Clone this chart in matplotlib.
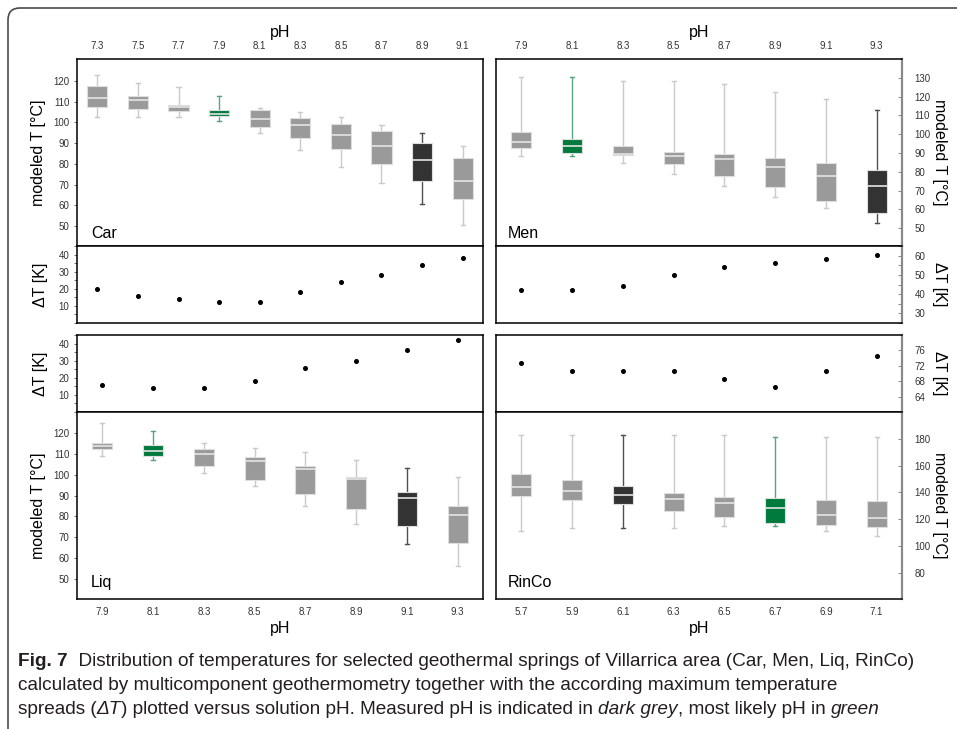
import matplotlib
matplotlib.use("Agg")
import matplotlib.pyplot as plt
from matplotlib.patches import FancyBboxPatch
from matplotlib.transforms import IdentityTransform
from matplotlib.ticker import MultipleLocator

plt.rcParams['font.family'] = ['Liberation Sans', 'DejaVu Sans']

# ---------------- data ----------------
car_ph = ["7.3", "7.5", "7.7", "7.9", "8.1", "8.3", "8.5", "8.7", "8.9", "9.1"]
car_whislo = [102.8, 102.8, 102.8, 100.9, 95.1, 86.7, 78.6, 70.6, 60.8, 50.5]
car_q1 = [107.6, 106.3, 105.7, 103.1, 97.6, 92.6, 87.0, 79.9, 71.7, 63.2]
car_med = [111.8, 110.8, 107.6, 104.1, 101.8, 98.9, 93.9, 88.6, 81.7, 71.7]
car_q3 = [117.6, 112.6, 108.4, 106.0, 106.0, 102.0, 99.1, 96.0, 90.1, 83.0]
car_whishi = [122.9, 119.0, 117.1, 112.9, 106.8, 104.9, 102.8, 98.8, 94.9, 88.6]
car_dT = [20, 16, 14, 12, 12, 18, 24, 28, 34, 38]
car_measured = "8.9"
car_likely = "7.9"

men_ph = ["7.9", "8.1", "8.3", "8.5", "8.7", "8.9", "9.1", "9.3"]
men_whislo = [88.5, 88.5, 84.8, 78.6, 72.5, 66.5, 60.6, 52.7]
men_q1 = [92.9, 90.1, 89.0, 83.9, 77.8, 71.8, 64.4, 58.3]
men_med = [95.6, 93.8, 89.6, 88.5, 86.7, 82.8, 77.8, 72.5]
men_q3 = [101.3, 97.4, 93.5, 90.3, 89.4, 87.4, 84.8, 80.7]
men_whishi = [130.5, 130.5, 128.4, 128.4, 126.8, 122.5, 118.6, 112.6]
men_dT = [42, 42, 44, 50, 54, 56, 58, 60.5]
men_measured = "9.3"
men_likely = "8.1"

liq_ph = ["7.9", "8.1", "8.3", "8.5", "8.7", "8.9", "9.1", "9.3"]
liq_whislo = [109.0, 107.1, 100.8, 94.8, 84.8, 76.5, 66.5, 56.3]
liq_q1 = [112.3, 109.2, 104.2, 97.6, 90.9, 83.4, 75.2, 67.3]
liq_med = [113.9, 111.3, 110.0, 106.9, 102.7, 98.1, 88.7, 80.6]
liq_q3 = [115.2, 114.4, 112.7, 108.7, 104.2, 98.9, 91.6, 84.8]
liq_whishi = [125.2, 121.1, 115.2, 113.1, 110.8, 107.1, 103.1, 98.9]
liq_dT = [16, 14, 14, 18, 26, 30, 36, 42]
liq_measured = "9.1"
liq_likely = "8.1"

rin_ph = ["5.7", "5.9", "6.1", "6.3", "6.5", "6.7", "6.9", "7.1"]
rin_whislo = [111.3, 113.4, 113.4, 113.4, 115.2, 115.2, 111.4, 107.3]
rin_q1 = [137.5, 134.5, 131.6, 126.0, 121.6, 117.4, 115.9, 114.3]
rin_med = [144.2, 141.2, 138.3, 135.3, 132.3, 128.1, 123.4, 120.6]
rin_q3 = [153.9, 149.1, 144.7, 139.8, 136.8, 135.8, 134.6, 133.8]
rin_whishi = [183.2, 183.2, 183.2, 183.2, 183.2, 181.2, 181.2, 181.2]
rin_dT = [72.6, 70.6, 70.6, 70.6, 68.6, 66.6, 70.6, 74.6]
rin_measured = "6.1"
rin_likely = "6.7"

# ---------------- style ----------------
GREY, DARK, GREEN = '#9a9a9a', '#333333', '#007a3d'
WH_GREY, WH_DARK, WH_GREEN = '#cacaca', '#505050', '#5aa47c'
TICKC = '#333333'
TICKFS = 7
LABFS = 11.5

W, H = 957, 729
fig = plt.figure(figsize=(W / 100, H / 100), dpi=100)


def fr(x0, y0, x1, y1):
    return [x0 / W, 1 - y1 / H, (x1 - x0) / W, (y1 - y0) / H]


def draw_boxes(ax, ph, lo, q1, med, q3, hi, measured, likely, width, capw):
    stats = []
    for i in range(len(ph)):
        stats.append(dict(whislo=lo[i], q1=q1[i], med=med[i], q3=q3[i],
                          whishi=hi[i], fliers=[]))
    pos = list(range(len(ph)))
    art = ax.bxp(stats, positions=pos, widths=width, capwidths=capw,
                 patch_artist=True, showfliers=False, manage_ticks=False)
    for i, p in enumerate(ph):
        if p == measured:
            fc, wc = DARK, WH_DARK
        elif p == likely:
            fc, wc = GREEN, WH_GREEN
        else:
            fc, wc = GREY, WH_GREY
        art['boxes'][i].set(facecolor=fc, edgecolor='#dedede', linewidth=0.8, zorder=3)
        art['medians'][i].set(color='#e4e4e4', linewidth=1.2, zorder=4)
        for w in art['whiskers'][2 * i:2 * i + 2]:
            w.set(color=wc, linewidth=1.0, zorder=2)
        for c in art['caps'][2 * i:2 * i + 2]:
            c.set(color=wc, linewidth=1.0, zorder=2)
    ax.set_xlim(-0.5, len(ph) - 0.5)


def style_left(ax):
    for s in ax.spines.values():
        s.set_color('black')
        s.set_linewidth(1.1)
    ax.tick_params(axis='y', which='both', direction='out', length=2.5, width=0.6,
                   color='#555555', labelsize=TICKFS, labelcolor=TICKC, pad=3)


def style_right(ax):
    for s in ax.spines.values():
        s.set_color('black')
        s.set_linewidth(1.1)
    ax.spines['right'].set_color('#8a8a8a')
    ax.spines['right'].set_linewidth(1.6)
    ax.yaxis.tick_right()
    ax.yaxis.set_label_position('right')
    ax.tick_params(axis='y', which='both', direction='in', length=3, width=0.6,
                   color='#777777', labelsize=TICKFS, labelcolor=TICKC, pad=9)


def right_label(ax, text):
    ax.set_ylabel(text, fontsize=LABFS, rotation=270, ha='center', va='center')
    ax.yaxis.set_label_coords((940 - 496) / 406, 0.5)


def top_xticks(ax, labels):
    ax.xaxis.tick_top()
    ax.set_xticks(range(len(labels)))
    ax.set_xticklabels(labels)
    ax.tick_params(axis='x', length=0, labelsize=TICKFS, labelcolor=TICKC, pad=6)
    ax.xaxis.set_label_position('top')
    ax.set_xlabel('pH', fontsize=LABFS, labelpad=3)


def bottom_xticks(ax, labels):
    ax.set_xticks(range(len(labels)))
    ax.set_xticklabels(labels)
    ax.tick_params(axis='x', length=0, labelsize=TICKFS, labelcolor=TICKC, pad=6)
    ax.set_xlabel('pH', fontsize=LABFS, labelpad=3)


def dT_panel(ax, vals):
    ax.plot(range(len(vals)), vals, 'o', color='black', markersize=2.6, zorder=3)
    ax.set_xlim(-0.5, len(vals) - 0.5)
    ax.set_xticks([])


# ---------- Car ----------
ax = fig.add_axes(fr(77, 59, 483, 246))
draw_boxes(ax, car_ph, car_whislo, car_q1, car_med, car_q3, car_whishi,
           car_measured, car_likely, 0.5, 0.1)
ax.set_ylim(40.5, 130.5)
ax.set_yticks(range(50, 121, 10))
style_left(ax)
top_xticks(ax, car_ph)
ax.set_ylabel('modeled T [°C]', fontsize=LABFS, labelpad=5)
ax.text(0.034, 0.045, 'Car', transform=ax.transAxes, fontsize=11.5)

ax = fig.add_axes(fr(77, 246, 483, 323))
dT_panel(ax, car_dT)
ax.set_ylim(0, 45)
ax.set_yticks([10, 20, 30, 40])
ax.yaxis.set_minor_locator(MultipleLocator(5))
style_left(ax)
ax.set_ylabel('ΔT [K]', fontsize=LABFS, labelpad=8)

# ---------- Men ----------
ax = fig.add_axes(fr(496, 59, 902, 246))
draw_boxes(ax, men_ph, men_whislo, men_q1, men_med, men_q3, men_whishi,
           men_measured, men_likely, 0.39, 0.08)
ax.set_ylim(40.5, 140)
ax.set_yticks(range(50, 131, 10))
style_right(ax)
top_xticks(ax, men_ph)
right_label(ax, 'modeled T [°C]')
ax.text(0.03, 0.045, 'Men', transform=ax.transAxes, fontsize=11.5)

ax = fig.add_axes(fr(496, 246, 902, 323))
dT_panel(ax, men_dT)
ax.set_ylim(25, 65)
ax.set_yticks([30, 40, 50, 60])
ax.yaxis.set_minor_locator(MultipleLocator(5))
style_right(ax)
right_label(ax, 'ΔT [K]')

# ---------- Liq ----------
ax = fig.add_axes(fr(77, 335, 483, 412))
dT_panel(ax, liq_dT)
ax.set_ylim(0, 45)
ax.set_yticks([10, 20, 30, 40])
ax.yaxis.set_minor_locator(MultipleLocator(5))
style_left(ax)
ax.set_ylabel('ΔT [K]', fontsize=LABFS, labelpad=8)

ax = fig.add_axes(fr(77, 412, 483, 599))
draw_boxes(ax, liq_ph, liq_whislo, liq_q1, liq_med, liq_q3, liq_whishi,
           liq_measured, liq_likely, 0.39, 0.08)
ax.set_ylim(40.2, 130.3)
ax.set_yticks(range(50, 121, 10))
style_left(ax)
bottom_xticks(ax, liq_ph)
ax.set_ylabel('modeled T [°C]', fontsize=LABFS, labelpad=5)
ax.text(0.034, 0.065, 'Liq', transform=ax.transAxes, fontsize=11.5)

# ---------- RinCo ----------
ax = fig.add_axes(fr(496, 335, 902, 412))
dT_panel(ax, rin_dT)
ax.set_ylim(60, 80)
ax.set_yticks([64, 68, 72, 76])
style_right(ax)
right_label(ax, 'ΔT [K]')

ax = fig.add_axes(fr(496, 412, 902, 599))
draw_boxes(ax, rin_ph, rin_whislo, rin_q1, rin_med, rin_q3, rin_whishi,
           rin_measured, rin_likely, 0.39, 0.08)
ax.set_ylim(60.5, 200)
ax.set_yticks(range(80, 181, 20))
style_right(ax)
bottom_xticks(ax, rin_ph)
right_label(ax, 'modeled T [°C]')
ax.text(0.03, 0.065, 'RinCo', transform=ax.transAxes, fontsize=11.5)

# ---------- frame ----------
frame = FancyBboxPatch((8, -200), 1200, H - 8 + 200,
                       boxstyle='round,pad=0,rounding_size=12',
                       transform=IdentityTransform(), fill=False,
                       edgecolor='#4a4a4a', linewidth=1.2, clip_on=False)
fig.add_artist(frame)

# ---------- caption ----------
CAPFAM = ['Liberation Sans', 'DejaVu Sans']
CAPFS = 13.7
renderer = fig.canvas.get_renderer()


def run_line(x_px, y_px, parts):
    x = x_px
    for txt, kw in parts:
        t = fig.text(x / W, 1 - y_px / H, txt, fontsize=CAPFS, family=CAPFAM,
                     va='center', ha='left', color='#231f20', **kw)
        bb = t.get_window_extent(renderer)
        x += bb.width


run_line(18, 662, [
    ('Fig. 7', dict(fontweight='bold')),
    ('  Distribution of temperatures for selected geothermal springs of Villarrica area (Car, Men, Liq, RinCo)', {}),
])
run_line(18, 686, [
    ('calculated by multicomponent geothermometry together with the according maximum temperature', {}),
])
run_line(18, 710, [
    ('spreads (', {}),
    ('ΔT', dict(style='italic')),
    (') plotted versus solution pH. Measured pH is indicated in ', {}),
    ('dark grey', dict(style='italic')),
    (', most likely pH in ', {}),
    ('green', dict(style='italic')),
])

fig.savefig('out.png', dpi=100)
